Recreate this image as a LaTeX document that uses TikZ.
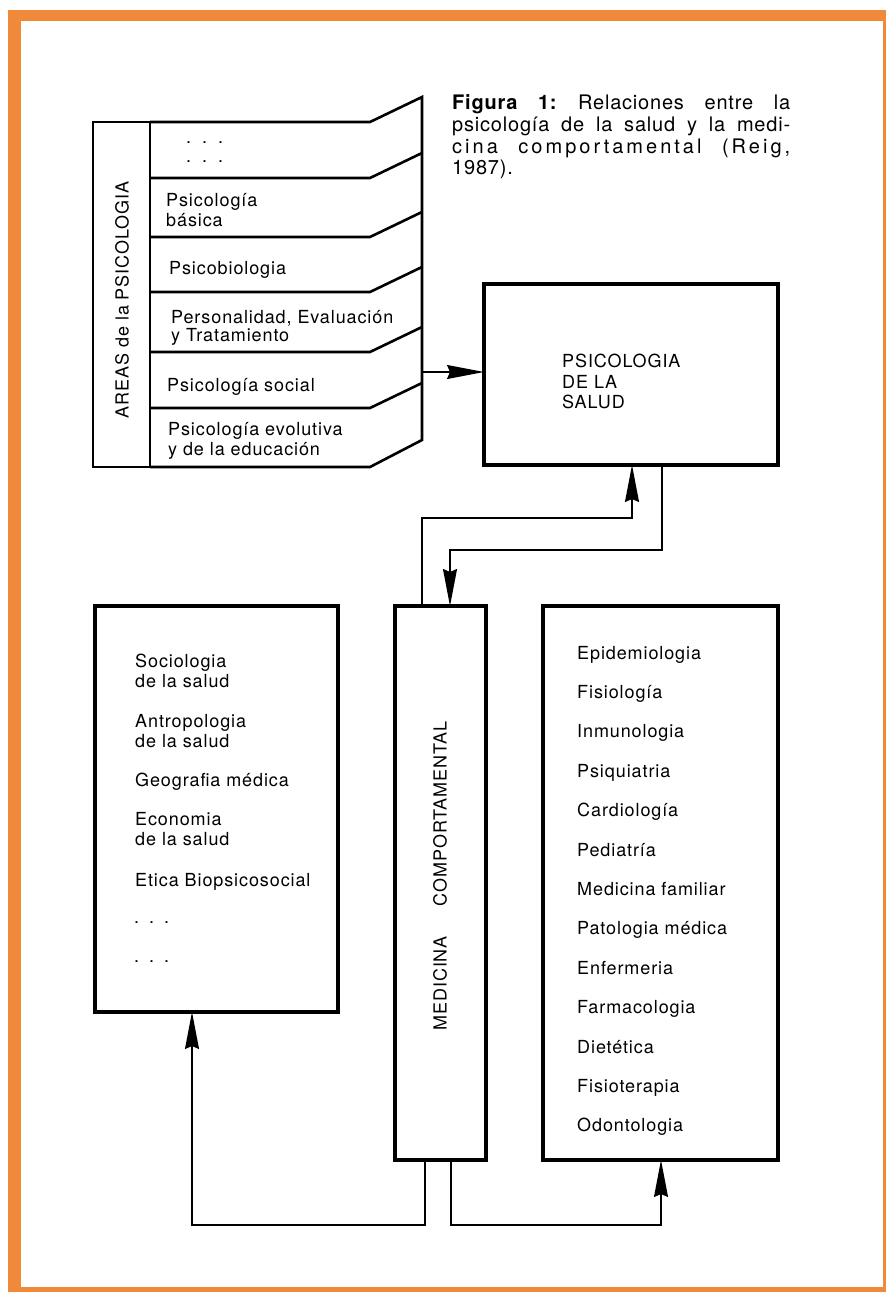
\documentclass[tikz,border=0pt]{standalone}
\usepackage{fontspec}
\setmainfont{TeX Gyre Heros}
\newfontfamily\lblfont{TeX Gyre Heros}[LetterSpace=5]
\newfontfamily\capfont{TeX Gyre Heros}[LetterSpace=4]
\usetikzlibrary{arrows.meta}
\definecolor{frameorange}{RGB}{240,138,58}
\frenchspacing
\tikzset{
  box/.style={draw, line width=3.2pt, outer sep=0pt, inner sep=0pt, anchor=north west},
  stk/.style={line width=2.6pt, line join=miter},
  conn/.style={line width=1.4pt},
  arr/.style={conn, -{Stealth[length=37pt,width=14pt,inset=3pt]}},
  lbl/.style={anchor=base west, inner sep=0pt, font=\lblfont\fontsize{18}{20}\selectfont},
  vlbl/.style={inner sep=0pt, rotate=90, font=\lblfont\fontsize{18}{20}\selectfont},
}
\begin{document}
\begin{tikzpicture}[x=1pt,y=-1pt]
\useasboundingbox (0,0) rectangle (886,1292);
\fill[white] (0,0) rectangle (886,1292);
\fill[frameorange] (8,10) rectangle (886,1292);
\fill[white] (21,21) rectangle (883,1287);

% caption
\node[anchor=base west, inner sep=0pt] (caption) at (452,110) {%
  \begin{minipage}[t]{338pt}\frenchspacing\capfont\fontsize{20}{21.6}\selectfont
  \makebox[338pt][s]{\textbf{Figura 1:} Relaciones entre la}\\
  \makebox[338pt][s]{psicología de la salud y la medi-}\\
  \makebox[338pt][s]{\addfontfeature{LetterSpace=15}cina comportamental (Reig,}\\
  1987).
  \end{minipage}};

% areas de la psicologia (stack)
\node[box, line width=2.6pt, minimum width=57pt, minimum height=345pt] (areas) at (93,122) {};
\node[vlbl] (areaslbl) at (122,300) {AREAS de la PSICOLOGIA};
\draw[stk] (150,122) -- (370,122) -- (422,97) -- (422,440) -- (370,467) -- (150,467);
\foreach \yy in {178,237,292,352,408}{
  \draw[stk] (150,\yy) -- (370,\yy) -- (422,\yy-25);
}
\node[lbl] (d1) at (186,144) {.\hspace{11pt}.\hspace{11pt}.};
\node[lbl] (d2) at (186,163) {.\hspace{11pt}.\hspace{11pt}.};
\node[lbl] (r2a) at (166,206) {Psicología};
\node[lbl] (r2b) at (166,226) {básica};
\node[lbl] (r3) at (169,274) {Psicobiologia};
\node[lbl] (r4a) at (171,323) {Personalidad, Evaluación};
\node[lbl] (r4b) at (171,341) {y Tratamiento};
\node[lbl] (r5) at (167,391) {Psicología social};
\node[lbl] (r6a) at (168,435) {Psicología evolutiva};
\node[lbl] (r6b) at (168,455) {y de la educación};
\coordinate (sr) at (422,372);

% psicologia de la salud
\node[box, minimum width=294pt, minimum height=181pt] (salud) at (484,284) {};
\node[lbl] (s1) at (562,367.5) {PSICOLOGIA};
\node[lbl] (s2) at (562,388.5) {DE LA};
\node[lbl] (s3) at (562,408.5) {SALUD};

% left box
\node[box, minimum width=243pt, minimum height=406pt] (soc) at (95,606) {};
\node[lbl] (l1) at (135,667) {Sociologia};
\node[lbl] (l2) at (135,687) {de la salud};
\node[lbl] (l3) at (135,727) {Antropologia};
\node[lbl] (l4) at (135,747) {de la salud};
\node[lbl] (l5) at (135,786) {Geografia médica};
\node[lbl] (l6) at (135,825) {Economia};
\node[lbl] (l7) at (135,845) {de la salud};
\node[lbl] (l8) at (135,886) {Etica Biopsicosocial};
\node[lbl] (l9) at (134,923) {.\hspace{10pt}.\hspace{10pt}.};
\node[lbl] (l10) at (134,962) {.\hspace{10pt}.\hspace{10pt}.};

% medicina comportamental
\node[box, minimum width=91pt, minimum height=554pt] (med) at (395,606) {};
\node[vlbl] (medlbl) at (440,876) {MEDICINA\hspace{30pt}COMPORTAMENTAL};

% right box
\node[box, minimum width=235pt, minimum height=554pt] (list) at (543,606) {};
\foreach \t [count=\i from 0] in {Epidemiologia,Fisiología,Inmunologia,Psiquiatria,Cardiología,Pediatría,Medicina familiar,Patologia médica,Enfermeria,Farmacologia,Dietética,Fisioterapia,Odontologia}{
  \node[lbl] (m\i) at (577,659+39.4*\i) {\t};
}

% connectors
\draw[arr] (sr) -- (sr -| salud.west);
\draw[arr] ([xshift=27pt]med.north west) -- ++(0,-88) -| ([xshift=148pt]salud.south west);
\draw[arr] ([xshift=178pt]salud.south west) -- ++(0,85) -| ([xshift=55pt]med.north west);
\draw[arr] ([xshift=30pt]med.south west) -- ++(0,65) -| ([xshift=97pt]soc.south west);
\draw[arr] ([xshift=56pt]med.south west) -- ++(0,65) -| ([xshift=118pt]list.south west);
\end{tikzpicture}
\end{document}
